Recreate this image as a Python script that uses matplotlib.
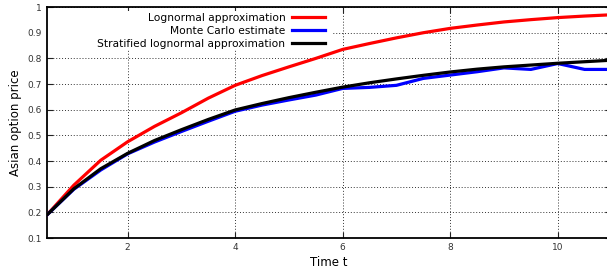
import matplotlib
matplotlib.use('Agg')
import matplotlib.pyplot as plt
import matplotlib.patches as mpatches
from matplotlib.ticker import FuncFormatter, MultipleLocator

# time grid and the three estimates
t = [0.5, 1, 1.5, 2, 2.5, 3, 3.5, 4, 4.5, 5, 5.5, 6,
     6.5, 7, 7.5, 8, 8.5, 9, 9.5, 10, 10.5, 11]

lognormal = [0.19, 0.306, 0.403, 0.475, 0.535, 0.588, 0.645, 0.695, 0.733, 0.767, 0.80, 0.835,
             0.858, 0.88, 0.90, 0.917, 0.93, 0.942, 0.951, 0.959, 0.965, 0.97]

monte_carlo = [0.19, 0.29, 0.365, 0.428, 0.474, 0.515, 0.555, 0.594, 0.618, 0.638, 0.657, 0.683,
               0.687, 0.695, 0.722, 0.735, 0.748, 0.763, 0.757, 0.780, 0.757, 0.757]

stratified = [0.19, 0.292, 0.37, 0.43, 0.48, 0.522, 0.562, 0.599, 0.624, 0.647, 0.668, 0.688,
              0.705, 0.72, 0.734, 0.747, 0.758, 0.767, 0.774, 0.781, 0.787, 0.793]

fig = plt.figure(figsize=(6.07, 2.72), dpi=100)
ax = fig.add_axes([0.0774, 0.125, 0.93, 0.849])
ax.set_axisbelow(True)

ax.plot(t, lognormal, color='#ff0000', lw=2.3, label='Lognormal approximation', zorder=3)
ax.plot(t, monte_carlo, color='#0000ff', lw=2.3, label='Monte Carlo estimate', zorder=3)
ax.plot(t, stratified, color='#000000', lw=2.3, label='Stratified lognormal approximation', zorder=3)

ax.set_xlim(0.5, 11)
ax.set_ylim(0.1, 1)
ax.xaxis.set_major_locator(MultipleLocator(2))
ax.yaxis.set_major_locator(MultipleLocator(0.1))
ax.yaxis.set_major_formatter(FuncFormatter(lambda v, p: '%g' % round(v, 2)))

ax.grid(True, linestyle=(0, (1, 2)), color='#333333', lw=0.7)
ax.tick_params(direction='in', top=True, right=True, labelsize=6.5, length=4, width=0.8,
               colors='#222222', labelcolor='#333333')
for s in ax.spines.values():
    s.set_linewidth(1.3)

# key box blanks out the grid behind it (gnuplot style)
ax.add_patch(mpatches.Rectangle((0, 0.814), 0.505, 0.169, transform=ax.transAxes,
                                facecolor='white', edgecolor='none', zorder=1))

ax.set_xlabel('Time t', fontsize=8.5, labelpad=3)
ax.set_ylabel('Asian option price', fontsize=8.5, labelpad=4)

ax.legend(loc='upper right', bbox_to_anchor=(0.497, 0.983), frameon=False, markerfirst=False,
          fontsize=7.7, handlelength=3.1, handletextpad=0.65, labelspacing=0.27, borderpad=0.2,
          borderaxespad=0)

fig.savefig('out.png', dpi=100)
